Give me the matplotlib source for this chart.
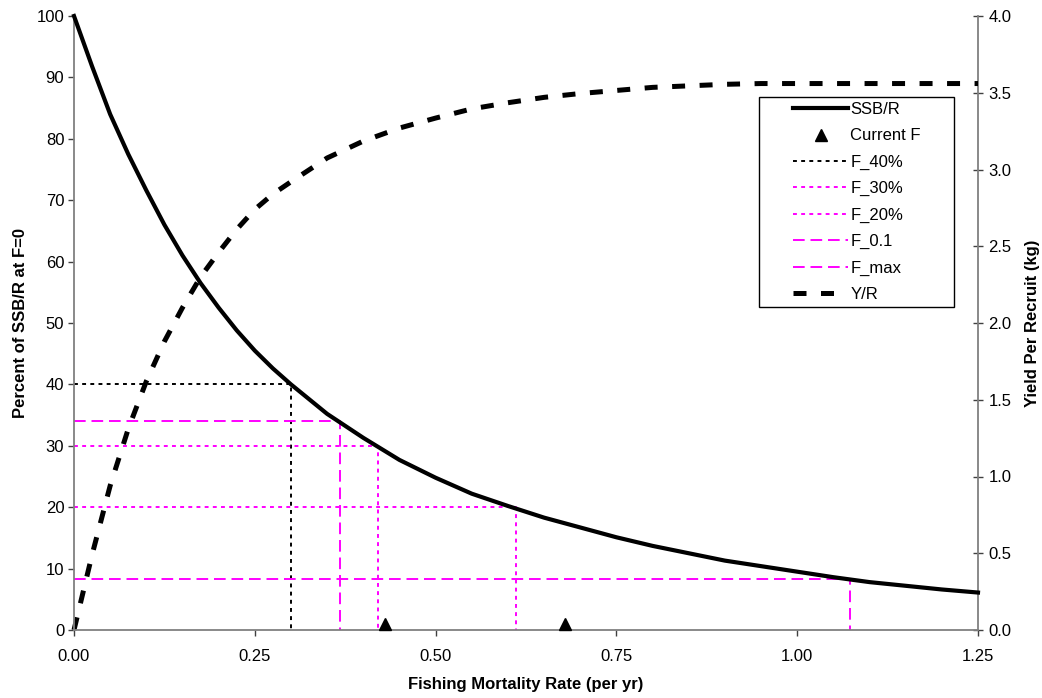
import matplotlib
matplotlib.use("Agg")
import matplotlib.pyplot as plt
from matplotlib.patches import Rectangle

plt.rcParams['font.family'] = ['Liberation Sans', 'DejaVu Sans']

# ---- data ----
F = [0.0, 0.025, 0.05, 0.075, 0.10, 0.125, 0.15, 0.175, 0.20, 0.225, 0.25, 0.275, 0.30,
     0.35, 0.40, 0.45, 0.50, 0.55, 0.60, 0.65, 0.70, 0.75, 0.80, 0.85, 0.90, 0.95,
     1.00, 1.05, 1.10, 1.15, 1.20, 1.25]
ssb_pct = [100.0, 91.8, 84.0, 77.5, 71.6, 66.0, 61.0, 56.5, 52.5, 48.8, 45.5, 42.6, 40.0,
           35.2, 31.3, 27.7, 24.8, 22.2, 20.2, 18.3, 16.7, 15.1, 13.7, 12.5, 11.3, 10.4,
           9.5, 8.6, 7.8, 7.2, 6.6, 6.1]
ypr = [0.0, 0.49, 0.94, 1.31, 1.62, 1.88, 2.10, 2.30, 2.46, 2.61, 2.74, 2.84, 2.92,
       3.075, 3.185, 3.27, 3.335, 3.395, 3.435, 3.47, 3.495, 3.515, 3.535, 3.545, 3.555, 3.56,
       3.56, 3.56, 3.56, 3.56, 3.56, 3.56]

current_F = [0.430, 0.679]
current_F_y = [1.0, 1.0]

ref_names = ['F_40%', 'F_30%', 'F_20%', 'F_0.1', 'F_max']
ref_F = [0.300, 0.421, 0.611, 0.368, 1.073]
ref_ssb = [40.0, 30.0, 20.0, 34.0, 8.3]

x_ticks = [0.0, 0.25, 0.50, 0.75, 1.00, 1.25]
x_ticklabels = ['0.00', '0.25', '0.50', '0.75', '1.00', '1.25']
y_ticks = list(range(0, 101, 10))
y2_ticks = [0.0, 0.5, 1.0, 1.5, 2.0, 2.5, 3.0, 3.5, 4.0]

# ---- styles ----
MAG = '#FF00FF'
FS = 12
ref_styles = [
    dict(color='black', lw=1.4, dashes=(2.0, 2.2)),
    dict(color=MAG, lw=1.4, dashes=(2.0, 2.2)),
    dict(color=MAG, lw=1.4, dashes=(2.0, 2.2)),
    dict(color=MAG, lw=1.4, dashes=(6.0, 3.0)),
    dict(color=MAG, lw=1.4, dashes=(6.0, 3.0)),
]

W, H = 1042, 698
AX_L, AX_R, AX_T, AX_B = 74, 978, 16, 630

fig = plt.figure(figsize=(W / 100, H / 100), dpi=100)
ax = fig.add_axes([AX_L / W, 1 - AX_B / H, (AX_R - AX_L) / W, (AX_B - AX_T) / H])
ax2 = ax.twinx()

ref_handles = []
for name, fv, sv, st in zip(ref_names, ref_F, ref_ssb, ref_styles):
    h, = ax.plot([0, fv, fv], [sv, sv, 0], color=st['color'], lw=st['lw'],
                 dashes=st['dashes'], dash_capstyle='butt', label=name,
                 zorder=2, clip_on=False)
    ref_handles.append(h)

h_ssb, = ax.plot(F, ssb_pct, color='black', lw=3.0, label='SSB/R', zorder=4,
                 solid_joinstyle='miter', clip_on=False)
h_cur, = ax.plot(current_F, current_F_y, linestyle='none', marker='^', color='black',
                 markersize=8.5, label='Current F', zorder=5, clip_on=False)

h_yr, = ax2.plot(F, ypr, color='black', lw=3.6, dashes=(2.6, 2.9),
                 dash_capstyle='butt', label='Y/R', zorder=3, clip_on=False)

ax.set_xlim(0, 1.25)
ax.set_ylim(0, 100)
ax2.set_ylim(0, 4.0)

ax.set_xticks(x_ticks)
ax.set_xticklabels(x_ticklabels)
ax.set_yticks(y_ticks)
ax2.set_yticks(y2_ticks)
ax2.set_yticklabels([f'{v:.1f}' for v in y2_ticks])

for a in (ax, ax2):
    a.spines['top'].set_visible(False)
    for s in a.spines.values():
        s.set_color('#808080')
        s.set_linewidth(1.3)
ax.spines['right'].set_visible(False)
ax2.spines['left'].set_visible(False)
ax2.spines['bottom'].set_visible(False)

ax.tick_params(axis='both', labelsize=FS, length=4, width=1.0, color='#404040', pad=3)
ax.tick_params(axis='x', pad=10)
ax2.tick_params(axis='y', labelsize=FS, length=7, width=1.0, color='#404040',
                direction='inout', pad=4)

ax.set_xlabel('Fishing Mortality Rate (per yr)', fontsize=FS, fontweight='bold', labelpad=9)
ax.set_ylabel('Percent of SSB/R at F=0', fontsize=FS, fontweight='bold', labelpad=6)
ax2.set_ylabel('Yield Per Recruit (kg)', fontsize=FS, fontweight='bold', labelpad=10)

ax.set_zorder(ax2.get_zorder() + 1)
ax.patch.set_visible(False)

# legend frame (pixel box 759..954 x 97..307)
LX0, LX1, LY0, LY1 = 759, 954, 97, 307
frame = Rectangle((LX0 / W, 1 - LY1 / H), (LX1 - LX0) / W, (LY1 - LY0) / H,
                  transform=fig.transFigure, facecolor='white', edgecolor='black',
                  lw=1.0, zorder=6, clip_on=False)
ax.add_artist(frame)

leg_handles = [h_ssb, h_cur] + ref_handles + [h_yr]
leg = ax.legend(handles=leg_handles, loc='upper left',
                bbox_to_anchor=((793 - AX_L) / (AX_R - AX_L), (AX_B - 102) / (AX_B - AX_T)),
                fontsize=FS, frameon=False, handlelength=3.3, handletextpad=0.15,
                labelspacing=0.68, borderpad=0, borderaxespad=0)
leg.set_zorder(7)

fig.savefig('out.png', dpi=100)
